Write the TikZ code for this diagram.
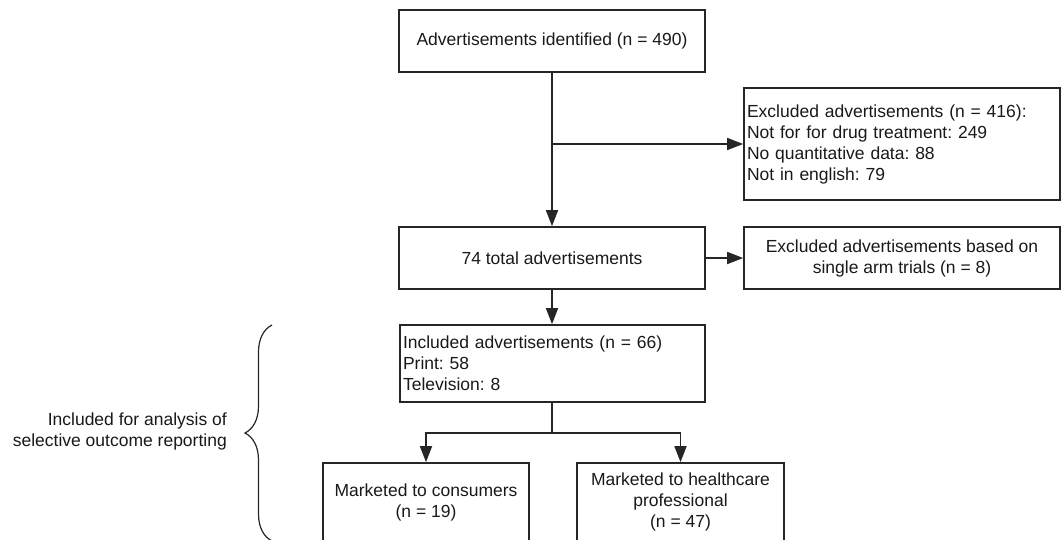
\documentclass[tikz,border=0pt]{standalone}
\usepackage{fontspec}
\setmainfont{Liberation Sans}
\usetikzlibrary{arrows.meta,positioning}
\usetikzlibrary{calc}
\usetikzlibrary{decorations.pathreplacing}
\frenchspacing

\begin{document}
\begin{tikzpicture}[x = 1pt, y = -1pt,
        box/.style = {draw = black!85, line width = 1.7pt, text = black!90, inner sep = 3pt, font = \fontsize{17.5}{21}\selectfont},
        flow/.style = {draw = black!85, line width = 1.7pt, -{Triangle[length = 16pt, width = 12pt]}}]

        % Define page size
        \useasboundingbox (0,0) rectangle (1061,539);

        % Main column
        \node[box, minimum width = 306pt, minimum height = 62pt] (identified) at (552,41) {Advertisements identified (n = 490)};
        \node[box, minimum width = 306pt, minimum height = 62pt] (total) at (552,258) {74 total advertisements};
        \node[box, minimum width = 305pt, minimum height = 77pt, text width = 299pt, align = left] (included) at (552.5,363.5) {Included advertisements (n = 66)\\Print: 58\\Television: 8};

        % Exclusions
        \node[box, minimum width = 316pt, minimum height = 112pt, text width = 310pt, align = left] (excluded) at (902,144) {Excluded advertisements (n = 416):\\Not for for drug treatment: 249\\No quantitative data: 88\\Not in english: 79};
        \node[box, minimum width = 316pt, minimum height = 62pt, align = center] (single_arm) at (902,258) {Excluded advertisements based on\\single arm trials (n = 8)};

        % Split by audience
        \node[box, minimum width = 206pt, minimum height = 78pt, align = center] (consumers) at (426,502) {Marketed to consumers\\(n = 19)};
        \node[box, minimum width = 207pt, minimum height = 78pt, align = center] (professional) at (680.5,502) {Marketed to healthcare\\professional\\(n = 47)};

        % Arrows
        \draw[flow] (identified) -- (total);
        \draw[flow] (identified.south |- excluded.west) -- (excluded.west);
        \draw[flow] (total) -- (single_arm);
        \draw[flow] (total.south) -- (total.south |- included.north);
        \coordinate (split) at (552,433);
        \draw[draw = black!85, line width = 1.7pt] (included.south -| split) -- (split);
        \draw[flow] (split) -| (consumers.north);
        \draw[flow] (split) -| (professional.north);

        % Brace and its label
        \coordinate (brace_top) at (272,325);
        \coordinate (brace_bot) at (272,541);
        \draw[draw = black!85, line width = 1.2pt, decorate, decoration = {brace, amplitude = 27pt}] (brace_bot) -- (brace_top);
        \node[anchor = east, align = right, inner sep = 2pt, text = black!90, font = \fontsize{17.5}{21}\selectfont] (analysis) at (229,431) {Included for analysis of\\selective outcome reporting};
\end{tikzpicture}
\end{document}
